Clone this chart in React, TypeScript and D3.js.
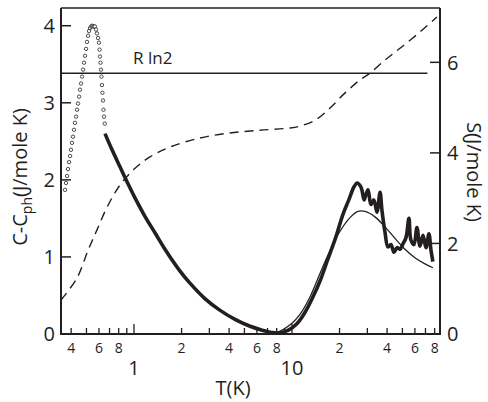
import * as d3 from 'd3';
import React from 'react';

// open-circle data near the ordering peak (T in K, C in J/mole K)
const peakT = [
  0.366, 0.371, 0.377, 0.382, 0.388, 0.394, 0.399, 0.405, 0.411, 0.417, 0.423, 0.43, 0.436, 0.442, 0.449,
  0.455, 0.462, 0.469, 0.476, 0.483, 0.49, 0.497, 0.504, 0.512, 0.519, 0.527, 0.535, 0.543, 0.55, 0.558,
  0.566, 0.575, 0.583, 0.592, 0.6, 0.605, 0.609, 0.614, 0.618, 0.622, 0.627, 0.631, 0.637, 0.641, 0.646, 0.653,
];
const peakC = [
  1.87, 1.96, 2.05, 2.14, 2.23, 2.31, 2.39, 2.48, 2.56, 2.65, 2.74, 2.82, 2.91, 2.99, 3.08,
  3.17, 3.25, 3.34, 3.43, 3.52, 3.61, 3.7, 3.79, 3.87, 3.93, 3.97, 3.99, 4.0, 3.99, 3.99,
  3.99, 3.95, 3.9, 3.84, 3.78, 3.69, 3.6, 3.52, 3.43, 3.34, 3.23, 3.13, 3.03, 2.91, 2.82, 2.73,
];

// measured C - C_ph (thick line)
const measT = [
  0.655, 0.726, 0.815, 0.916, 1.03, 1.17, 1.36, 1.57, 1.95, 2.26, 2.81, 3.49, 4.36, 5.43, 6.47, 7.49, 8.42,
  9.49, 10.7, 12.0, 13.5, 15.2, 16.8, 18.9, 21.0, 23.0, 24.7, 25.9, 27.1, 27.7, 28.6, 29.4, 30.3, 31.6,
  33.0, 34.5, 36.1, 37.1, 38.8, 40.5, 42.3, 44.2, 46.2, 48.3, 50.4, 52.7, 55.0, 56.6, 59.2, 61.8, 64.6,
  67.5, 70.5, 73.6, 75.8, 78.0,
];
const measC = [
  2.6, 2.39, 2.17, 1.95, 1.74, 1.53, 1.31, 1.1, 0.82, 0.66, 0.46, 0.31, 0.19, 0.1, 0.05, 0.02, 0.015,
  0.05, 0.13, 0.27, 0.47, 0.71, 0.96, 1.25, 1.55, 1.75, 1.91, 1.96, 1.92, 1.87, 1.74, 1.81, 1.87, 1.68,
  1.74, 1.58, 1.84, 1.61, 1.32, 1.13, 1.16, 1.06, 1.12, 1.1, 1.17, 1.25, 1.5, 1.22, 1.16, 1.38, 1.14,
  1.28, 1.12, 1.3, 1.09, 0.94,
];

// fitted curve (thin line)
const fitT = [6, 8, 10, 11.2, 13, 15, 17.4, 20.1, 23.3, 26.2, 29, 33.5, 38.8, 44.9, 51.9, 60, 69.5, 78];
const fitC = [0, 0.02, 0.14, 0.25, 0.48, 0.78, 1.08, 1.33, 1.51, 1.59, 1.59, 1.52, 1.39, 1.24, 1.1, 0.99, 0.91, 0.86];

// entropy (dashed line, right axis)
const entT = [
  0.345, 0.436, 0.512, 0.583, 0.675, 0.815, 1.015, 1.26, 1.69, 2.62, 4.05, 6.27, 9.71, 11.2, 14.0, 17.4,
  21.6, 26.9, 31.2, 38.8, 48.3, 64.6, 82.7,
];
const entS = [
  0.75, 1.24, 1.85, 2.3, 2.8, 3.29, 3.66, 3.91, 4.13, 4.33, 4.44, 4.5, 4.55, 4.59, 4.72, 4.99,
  5.32, 5.61, 5.76, 6.05, 6.31, 6.67, 7.0,
];

const RLN2 = 5.76;
const rln2End = 72;

const leftTicks = [0, 1, 2, 3, 4];
const rightTicks = [0, 2, 4, 6];
const minorTicks = [0.4, 0.5, 0.6, 0.7, 0.8, 0.9, 2, 3, 4, 5, 6, 7, 8, 9, 20, 30, 40, 50, 60, 70, 80];
const minorLabels = [0.4, 0.6, 0.8, 2, 4, 6, 8, 20, 40, 60, 80];
const minorLabelText = ['4', '6', '8', '2', '4', '6', '8', '2', '4', '6', '8'];
const majorTicks = [1, 10];

const ink = '#231f20';
const font = '"Open Sans", "DejaVu Sans", sans-serif';

const App = () => {
  const width = 488;
  const height = 402;
  const marginLeft = 61;
  const marginRight = 48;
  const marginTop = 8;
  const marginBottom = 68;
  const bottom = height - marginBottom;
  const right = width - marginRight;

  const x = d3.scaleLog().domain([0.345, 86.5]).range([marginLeft, right]);
  const yC = d3.scaleLinear().domain([0, 4.23]).range([bottom, marginTop]);
  const yS = d3.scaleLinear().domain([0, 7.2]).range([bottom, marginTop]);

  //all three curves share the same log T axis
  const measPath = d3
    .line<number>()
    .x((t) => x(t))
    .y((_, i) => yC(measC[i]))
    .curve(d3.curveCatmullRom)(measT);
  const fitPath = d3
    .line<number>()
    .x((t) => x(t))
    .y((_, i) => yC(fitC[i]))
    .curve(d3.curveCatmullRom)(fitT);
  const entPath = d3
    .line<number>()
    .x((t) => x(t))
    .y((_, i) => yS(entS[i]))
    .curve(d3.curveCatmullRom)(entT);

  return (
    <svg
      width={width}
      height={height}
      style={{ position: 'absolute', left: 0, top: 0, background: '#fff' }}
      fontFamily={font}
    >
      {/* R ln2 reference */}
      <line x1={x(0.345)} x2={x(rln2End)} y1={yS(RLN2)} y2={yS(RLN2)} stroke={ink} strokeWidth={1.5} />
      <text x={133} y={64} fontSize={17} fill={ink}>
        R ln2
      </text>

      {/* entropy */}
      <path d={entPath} fill="none" stroke={ink} strokeWidth={1.4} strokeDasharray="9 6" />

      {/* fit */}
      <path d={fitPath} fill="none" stroke={ink} strokeWidth={1.3} />

      {/* measured */}
      <path d={measPath} fill="none" stroke={ink} strokeWidth={3.6} strokeLinejoin="round" />

      {/* open circles */}
      <g fill="#fff" stroke={ink} strokeWidth={0.8}>
        {peakT.map((t, i) => (
          <circle key={i} cx={x(t)} cy={yC(peakC[i])} r={1.7} />
        ))}
      </g>

      {/* frame */}
      <g stroke={ink} fill="none">
        <line x1={marginLeft} x2={right} y1={marginTop} y2={marginTop} strokeWidth={1.5} />
        <line x1={marginLeft} x2={marginLeft} y1={marginTop} y2={bottom} strokeWidth={2} />
        <line x1={right} x2={right} y1={marginTop} y2={bottom} strokeWidth={2} />
        <line x1={marginLeft - 1} x2={right + 1} y1={bottom} y2={bottom} strokeWidth={2} />
      </g>

      {/* left axis */}
      <g stroke={ink} strokeWidth={1.5}>
        {leftTicks.map((v) => (
          <line key={v} x1={marginLeft} x2={marginLeft + 10} y1={yC(v)} y2={yC(v)} />
        ))}
      </g>
      <g fontSize={20} fill={ink} textAnchor="end">
        {leftTicks.map((v) => (
          <text key={v} x={55} y={yC(v)} dy="0.36em">
            {v}
          </text>
        ))}
      </g>

      {/* right axis */}
      <g stroke={ink} strokeWidth={1.5}>
        {rightTicks.map((v) => (
          <line key={v} x1={right - 10} x2={right} y1={yS(v)} y2={yS(v)} />
        ))}
      </g>
      <g fontSize={20} fill={ink} textAnchor="start">
        {rightTicks.map((v) => (
          <text key={v} x={447} y={yS(v)} dy="0.36em">
            {v}
          </text>
        ))}
      </g>

      {/* bottom axis */}
      <g stroke={ink} strokeWidth={1.3}>
        {minorTicks.map((t) => (
          <line key={t} x1={x(t)} x2={x(t)} y1={bottom} y2={bottom - 6} />
        ))}
        {majorTicks.map((t) => (
          <line key={t} x1={x(t)} x2={x(t)} y1={bottom} y2={bottom - 10} />
        ))}
      </g>
      <g fontSize={14} fill={ink} textAnchor="middle">
        {minorLabels.map((t, i) => (
          <text key={t} x={x(t)} y={353}>
            {minorLabelText[i]}
          </text>
        ))}
      </g>
      <g fontSize={20} fill={ink} textAnchor="middle">
        {majorTicks.map((t) => (
          <text key={t} x={x(t)} y={375}>
            {t}
          </text>
        ))}
      </g>

      {/* titles */}
      <text x={233} y={395} fontSize={20} fill={ink} textAnchor="middle">
        T(K)
      </text>
      <text transform="translate(27,177) rotate(-90)" fontSize={20} fill={ink} textAnchor="middle">
        C-C
        <tspan fontSize={14} dy={5}>
          ph
        </tspan>
        <tspan dy={-5}>(J/mole K)</tspan>
      </text>
      <text transform="translate(467,172) rotate(90)" fontSize={20} fill={ink} textAnchor="middle">
        S(J/mole K)
      </text>
    </svg>
  );
};

export default App;
